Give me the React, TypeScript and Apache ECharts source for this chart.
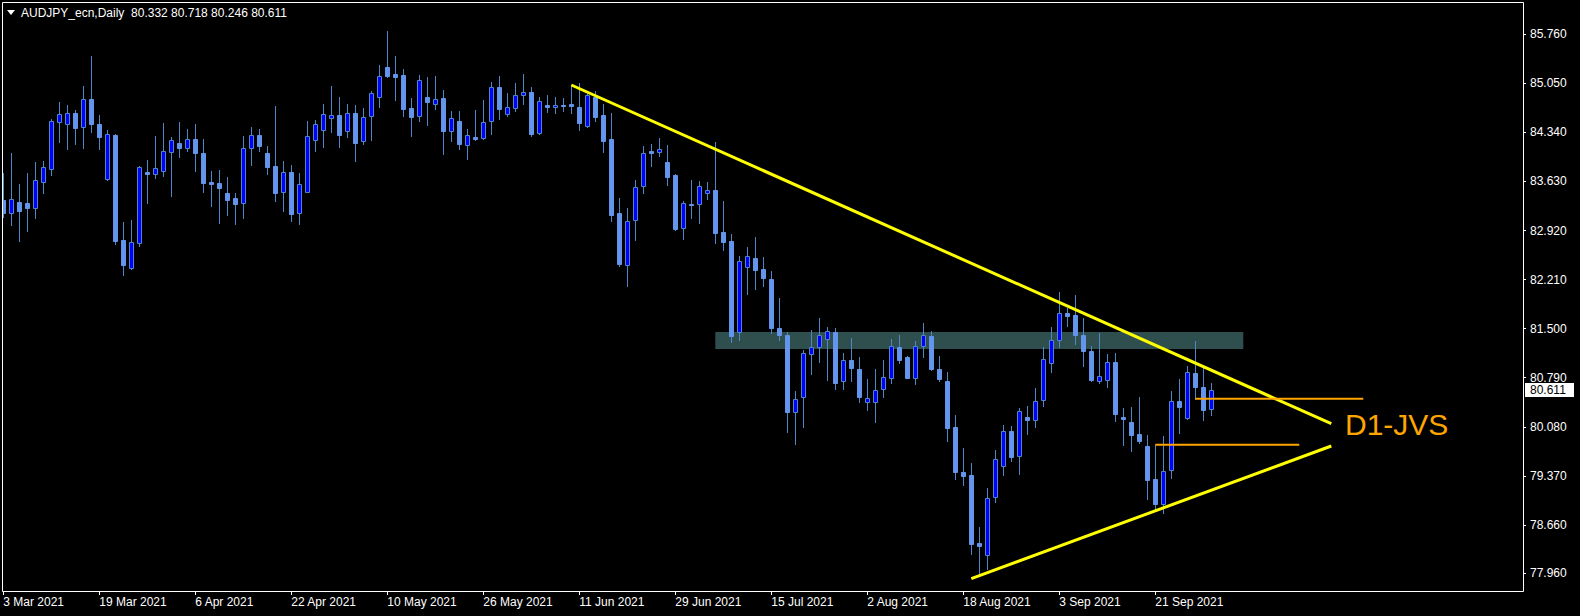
import React, { useEffect, useRef } from "react";
import * as echarts from "echarts";

// ---------- data ----------
const FIRST_DAY = [2021, 2, 3]; // 3 Mar 2021, weekdays only
const BAR_COUNT = 152;
const MONTHS = ["Jan", "Feb", "Mar", "Apr", "May", "Jun", "Jul", "Aug", "Sep", "Oct", "Nov", "Dec"];

const opens = [
  83.362, 83.179, 83.328, 83.319, 83.251, 83.627, 83.816, 84.496, 84.467, 84.621,
  84.423, 84.824, 84.462, 83.671, 84.303, 82.783, 82.383, 82.745, 83.762, 83.743,
  83.787, 84.062, 84.182, 84.119, 84.245, 84.042, 83.623, 83.608, 83.463, 83.391,
  83.314, 84.110, 84.298, 84.042, 83.854, 83.473, 83.762, 83.169, 83.483, 84.226,
  84.370, 84.544, 84.587, 84.356, 84.616, 84.211, 84.573, 84.848, 85.287, 85.185,
  85.171, 84.694, 84.573, 84.853, 84.756, 84.833, 84.365, 84.505, 84.163, 84.274,
  84.264, 84.500, 84.993, 84.611, 84.689, 84.877, 84.925, 84.337, 84.732, 84.703,
  84.737, 84.751, 84.708, 84.438, 84.857, 84.592, 84.245, 83.174, 82.426, 83.067,
  83.560, 84.066, 84.052, 83.912, 83.724, 82.952, 83.304, 83.300, 83.459, 83.502,
  82.894, 82.768, 81.456, 82.387, 82.522, 82.363, 82.218, 81.509, 81.408, 80.298,
  80.506, 81.128, 81.229, 81.345, 81.447, 80.737, 81.046, 80.916, 80.433, 80.433,
  80.622, 80.791, 81.229, 81.085, 80.791, 81.244, 81.389, 80.911, 80.737, 80.077,
  79.421, 79.382, 78.393, 78.219, 79.059, 79.507, 80.014, 79.652, 80.217, 80.173,
  80.467, 80.998, 81.331, 81.722, 81.693, 81.403, 81.172, 80.738, 80.762, 81.017,
  80.221, 80.149, 79.975, 79.802, 79.324, 78.967, 79.450, 80.448, 80.202, 80.853,
  80.656, 80.332,
];

const highs = [
  83.748, 84.037, 83.594, 83.748, 83.907, 83.926, 84.529, 84.775, 84.737, 84.665,
  85.012, 85.446, 84.587, 84.370, 84.317, 83.044, 83.073, 83.860, 83.941, 84.288,
  84.476, 84.269, 84.491, 84.390, 84.462, 84.245, 83.782, 83.796, 83.695, 83.463,
  84.288, 84.419, 84.390, 84.143, 84.722, 83.926, 83.869, 83.753, 84.505, 84.520,
  84.751, 85.012, 84.853, 84.751, 84.737, 84.694, 84.939, 85.316, 85.808, 85.446,
  85.258, 84.833, 85.171, 85.142, 85.157, 84.954, 84.650, 84.650, 84.390, 84.665,
  84.809, 85.070, 85.157, 84.906, 85.055, 85.185, 84.997, 84.853, 84.882, 84.853,
  84.838, 85.026, 85.055, 84.906, 84.939, 84.751, 84.621, 83.391, 83.246, 83.651,
  84.143, 84.172, 84.259, 84.158, 83.740, 83.348, 83.651, 83.637, 83.618, 84.201,
  83.348, 82.865, 82.551, 82.677, 82.826, 82.537, 82.334, 81.943, 81.447, 80.598,
  81.191, 81.480, 81.654, 81.524, 81.509, 81.143, 81.360, 81.090, 80.771, 80.916,
  81.046, 81.345, 81.403, 81.104, 81.316, 81.582, 81.461, 81.099, 80.868, 80.250,
  79.768, 79.551, 78.630, 79.194, 79.739, 80.101, 80.086, 80.347, 80.376, 80.636,
  81.230, 81.519, 82.026, 81.799, 81.987, 81.649, 81.244, 81.432, 81.133, 81.143,
  80.347, 80.361, 80.506, 79.956, 79.821, 79.947, 80.598, 80.771, 80.955, 81.321,
  80.935, 80.718,
];

const lows = [
  83.121, 83.005, 82.774, 82.918, 83.106, 83.468, 83.729, 84.206, 84.100, 84.172,
  84.119, 84.346, 84.100, 83.650, 82.725, 82.277, 82.360, 82.696, 83.323, 83.680,
  83.709, 83.420, 83.984, 84.076, 83.782, 83.478, 83.275, 83.034, 83.150, 83.020,
  83.106, 83.873, 84.076, 83.738, 83.348, 83.208, 83.063, 83.020, 83.473, 84.076,
  84.134, 84.351, 84.134, 84.279, 83.931, 84.177, 84.235, 84.713, 85.137, 84.809,
  84.578, 84.293, 84.505, 84.447, 84.684, 84.028, 84.216, 84.105, 83.960, 84.235,
  84.250, 84.322, 84.539, 84.582, 84.655, 84.756, 84.293, 84.322, 84.640, 84.626,
  84.655, 84.626, 84.380, 84.420, 84.510, 84.062, 83.063, 82.412, 82.122, 82.783,
  83.468, 83.859, 84.004, 83.584, 82.930, 82.803, 83.106, 83.034, 83.381, 82.745,
  82.643, 81.311, 81.340, 82.006, 82.079, 82.122, 81.432, 81.340, 80.009, 79.835,
  80.081, 80.848, 81.022, 80.762, 80.631, 80.631, 80.747, 80.443, 80.327, 80.154,
  80.516, 80.718, 81.008, 80.780, 80.704, 81.094, 80.906, 80.747, 79.874, 79.329,
  79.242, 78.243, 77.935, 78.027, 78.996, 79.387, 79.589, 79.401, 79.980, 80.072,
  80.385, 80.877, 81.239, 81.543, 81.283, 80.964, 80.740, 80.720, 80.660, 80.168,
  79.821, 79.734, 79.850, 79.040, 78.895, 78.837, 79.343, 79.995, 80.190, 80.487,
  80.183, 80.246,
];

const closes = [
  83.179, 83.381, 83.208, 83.251, 83.647, 83.835, 84.500, 84.602, 84.616, 84.409,
  84.819, 84.467, 84.279, 84.312, 82.774, 82.421, 82.749, 83.835, 83.733, 83.820,
  84.066, 84.226, 84.119, 84.245, 84.047, 83.608, 83.598, 83.540, 83.367, 83.309,
  84.110, 84.298, 84.148, 83.845, 83.468, 83.762, 83.164, 83.589, 84.283, 84.457,
  84.602, 84.587, 84.308, 84.616, 84.192, 84.568, 84.906, 85.152, 85.161, 85.147,
  84.684, 84.568, 85.094, 84.785, 84.819, 84.365, 84.544, 84.177, 84.298, 84.250,
  84.486, 84.993, 84.684, 84.703, 84.877, 84.920, 84.322, 84.790, 84.713, 84.732,
  84.727, 84.727, 84.481, 84.877, 84.568, 84.221, 83.150, 82.441, 83.058, 83.545,
  84.037, 84.047, 84.095, 83.700, 82.947, 83.314, 83.295, 83.560, 83.502, 82.889,
  82.759, 81.398, 82.474, 82.546, 82.353, 82.238, 81.514, 81.413, 80.298, 80.477,
  81.143, 81.229, 81.403, 81.461, 80.718, 81.041, 80.935, 80.516, 80.491, 80.607,
  80.795, 81.244, 81.051, 80.791, 81.244, 81.403, 80.921, 80.776, 80.067, 79.430,
  79.372, 78.388, 78.359, 79.044, 79.609, 80.014, 79.647, 80.304, 80.183, 80.448,
  81.056, 81.331, 81.722, 81.688, 81.413, 81.181, 80.762, 80.810, 81.013, 80.270,
  80.197, 79.966, 79.874, 79.315, 78.967, 79.435, 80.448, 80.371, 80.868, 80.660,
  80.327, 80.611,
];

const yTickValues = [85.76, 85.05, 84.34, 83.63, 82.92, 82.21, 81.5, 80.79, 80.08, 79.37, 78.66, 77.96];
const xTickBars = [0, 12, 24, 36, 48, 60, 72, 84, 96, 108, 120, 132, 144];

// drawn objects (bar index, price)
const upperTrend = [[71, 85.026], [166, 80.125]];
const lowerTrend = [[121, 77.884], [166, 79.802]];
const orangeUpper = [[149, 80.487], [170, 80.487]];
const orangeLower = [[144, 79.821], [162, 79.821]];
const zoneBox = [[89, 81.452, 155, 81.206]];

const SYMBOL = "AUDJPY_ecn,Daily";
const LAST_BAR = { open: 80.332, high: 80.718, low: 80.246, close: 80.611 };
const ANNOTATION = "D1-JVS";

// ---------- helpers ----------
function buildDateLabels(): string[] {
  const out: string[] = [];
  const d = new Date(Date.UTC(FIRST_DAY[0], FIRST_DAY[1], FIRST_DAY[2]));
  while (out.length < BAR_COUNT) {
    const wd = d.getUTCDay();
    if (wd !== 0 && wd !== 6) {
      out.push(`${d.getUTCDate()} ${MONTHS[d.getUTCMonth()]} ${d.getUTCFullYear()}`);
    }
    d.setUTCDate(d.getUTCDate() + 1);
  }
  return out;
}
const dateLabels = buildDateLabels();

const FONT = "Liberation Sans, Arial, sans-serif";
const WICK = "#4f86c8";
const BULL_FILL = "#0000ff";
const BEAR_FILL = "#6495ed";

const GRID_LEFT = 2;
const GRID_TOP = 2;
const GRID_W = 1521;
const GRID_H = 589;
const X_MIN = -0.1625;
const X_MAX = X_MIN + GRID_W / 8;
const Y_MIN = 77.704;
const Y_MAX = 86.227;

export default function App() {
  const ref = useRef<HTMLDivElement>(null);

  useEffect(() => {
    document.body.style.margin = "0";
    document.body.style.background = "#000";
    if (!ref.current) return;
    const chart = echarts.init(ref.current, undefined, { renderer: "svg" });

    const candleData = opens.map((o, i) => [i, o, closes[i], lows[i], highs[i]]);

    chart.setOption({
      animation: false,
      backgroundColor: "#000",
      grid: { left: GRID_LEFT, top: GRID_TOP, width: GRID_W, height: GRID_H, show: false },
      xAxis: {
        type: "value",
        min: X_MIN,
        max: X_MAX,
        splitLine: { show: false },
        axisLine: { show: false },
        axisTick: { show: true, length: 4, lineStyle: { color: "#fff" }, customValues: xTickBars },
        axisLabel: {
          customValues: xTickBars,
          formatter: (v: number) => dateLabels[Math.round(v)] || "",
          color: "#fff",
          fontFamily: FONT,
          fontSize: 12,
          align: "left",
          margin: 5,
        },
      },
      yAxis: {
        type: "value",
        position: "right",
        min: Y_MIN,
        max: Y_MAX,
        scale: true,
        splitLine: { show: false },
        axisLine: { show: false, onZero: false },
        axisTick: { show: true, length: 3, lineStyle: { color: "#fff" }, customValues: yTickValues },
        axisLabel: {
          customValues: yTickValues,
          formatter: (v: number) => v.toFixed(3),
          color: "#fff",
          fontFamily: FONT,
          fontSize: 12,
          margin: 7,
        },
      },
      series: [
        {
          type: "custom",
          name: "zone",
          z: 1,
          clip: true,
          data: zoneBox,
          encode: { x: [0, 2], y: [1, 3] },
          renderItem: (params: any, api: any) => {
            const p1 = api.coord([api.value(0), api.value(1)]);
            const p2 = api.coord([api.value(2), api.value(3)]);
            return {
              type: "rect",
              shape: { x: p1[0], y: p1[1], width: p2[0] - p1[0], height: p2[1] - p1[1] },
              style: { fill: "#2f4f4f" },
            };
          },
        },
        {
          type: "custom",
          name: "AUDJPY",
          z: 3,
          clip: true,
          data: candleData,
          encode: { x: 0, y: [1, 2, 3, 4] },
          renderItem: (params: any, api: any) => {
            const i = api.value(0);
            const o = api.value(1);
            const c = api.value(2);
            const l = api.value(3);
            const h = api.value(4);
            const pO = api.coord([i, o]);
            const yC = api.coord([i, c])[1];
            const yL = api.coord([i, l])[1];
            const yH = api.coord([i, h])[1];
            const cx = Math.floor(pO[0]) + 0.5;
            const bull = c > o;
            let top = Math.round(Math.min(pO[1], yC)) + 0.5;
            let bot = Math.round(Math.max(pO[1], yC)) + 0.5;
            if (bot - top < 1) bot = top + 1;
            return {
              type: "group",
              children: [
                {
                  type: "line",
                  shape: { x1: cx, y1: Math.round(yH), x2: cx, y2: Math.round(yL) + 1 },
                  style: { stroke: WICK, lineWidth: 1 },
                },
                {
                  type: "rect",
                  shape: { x: cx - 2, y: top, width: 4, height: bot - top },
                  style: {
                    fill: bull ? BULL_FILL : BEAR_FILL,
                    stroke: bull ? WICK : BEAR_FILL,
                    lineWidth: 1,
                  },
                },
              ],
            };
          },
        },
        {
          type: "line",
          name: "upper trend",
          z: 4,
          data: upperTrend,
          symbol: "none",
          lineStyle: { color: "#ffff00", width: 3 },
        },
        {
          type: "line",
          name: "lower trend",
          z: 4,
          data: lowerTrend,
          symbol: "none",
          lineStyle: { color: "#ffff00", width: 3 },
        },
        {
          type: "line",
          name: "level high",
          z: 4,
          data: orangeUpper,
          symbol: "none",
          lineStyle: { color: "#ffa500", width: 2 },
        },
        {
          type: "line",
          name: "level low",
          z: 4,
          data: orangeLower,
          symbol: "none",
          lineStyle: { color: "#ffa500", width: 2 },
        },
      ],
    });

    const pyLast = chart.convertToPixel({ yAxisIndex: 0 }, LAST_BAR.close) as number;
    const frameRight = GRID_LEFT + GRID_W;
    const frameBottom = GRID_TOP + GRID_H;

    chart.setOption({
      graphic: [
        {
          type: "polyline",
          z: 10,
          shape: {
            points: [
              [GRID_LEFT + 0.5, GRID_TOP + 0.5],
              [frameRight + 0.5, GRID_TOP + 0.5],
              [frameRight + 0.5, frameBottom + 0.5],
              [GRID_LEFT + 0.5, frameBottom + 0.5],
              [GRID_LEFT + 0.5, GRID_TOP + 0.5],
            ],
          },
          style: { stroke: "#fff", lineWidth: 1, fill: null },
        },
        {
          type: "polygon",
          z: 10,
          shape: { points: [[7, 10], [15, 10], [11, 15]] },
          style: { fill: "#fff" },
        },
        {
          type: "text",
          z: 10,
          x: 21,
          y: 13,
          style: {
            text: `${SYMBOL}\u00a0\u00a0${LAST_BAR.open.toFixed(3)} ${LAST_BAR.high.toFixed(3)} ${LAST_BAR.low.toFixed(3)} ${LAST_BAR.close.toFixed(3)}`,
            fill: "#fff",
            font: `12px ${FONT}`,
            verticalAlign: "middle",
          },
        },
        {
          type: "rect",
          z: 10,
          shape: { x: frameRight + 2, y: Math.round(pyLast) - 7, width: 49, height: 14 },
          style: { fill: "#fff" },
        },
        {
          type: "text",
          z: 11,
          x: frameRight + 7,
          y: pyLast,
          style: {
            text: LAST_BAR.close.toFixed(3),
            fill: "#000",
            font: `12px ${FONT}`,
            verticalAlign: "middle",
          },
        },
        {
          type: "text",
          z: 10,
          x: 1345,
          y: 424,
          style: {
            text: ANNOTATION,
            fill: "#ffa500",
            font: `30px ${FONT}`,
            verticalAlign: "middle",
          },
        },
      ],
    });

    return () => chart.dispose();
  }, []);

  return <div ref={ref} style={{ width: 1580, height: 616, background: "#000" }} />;
}
